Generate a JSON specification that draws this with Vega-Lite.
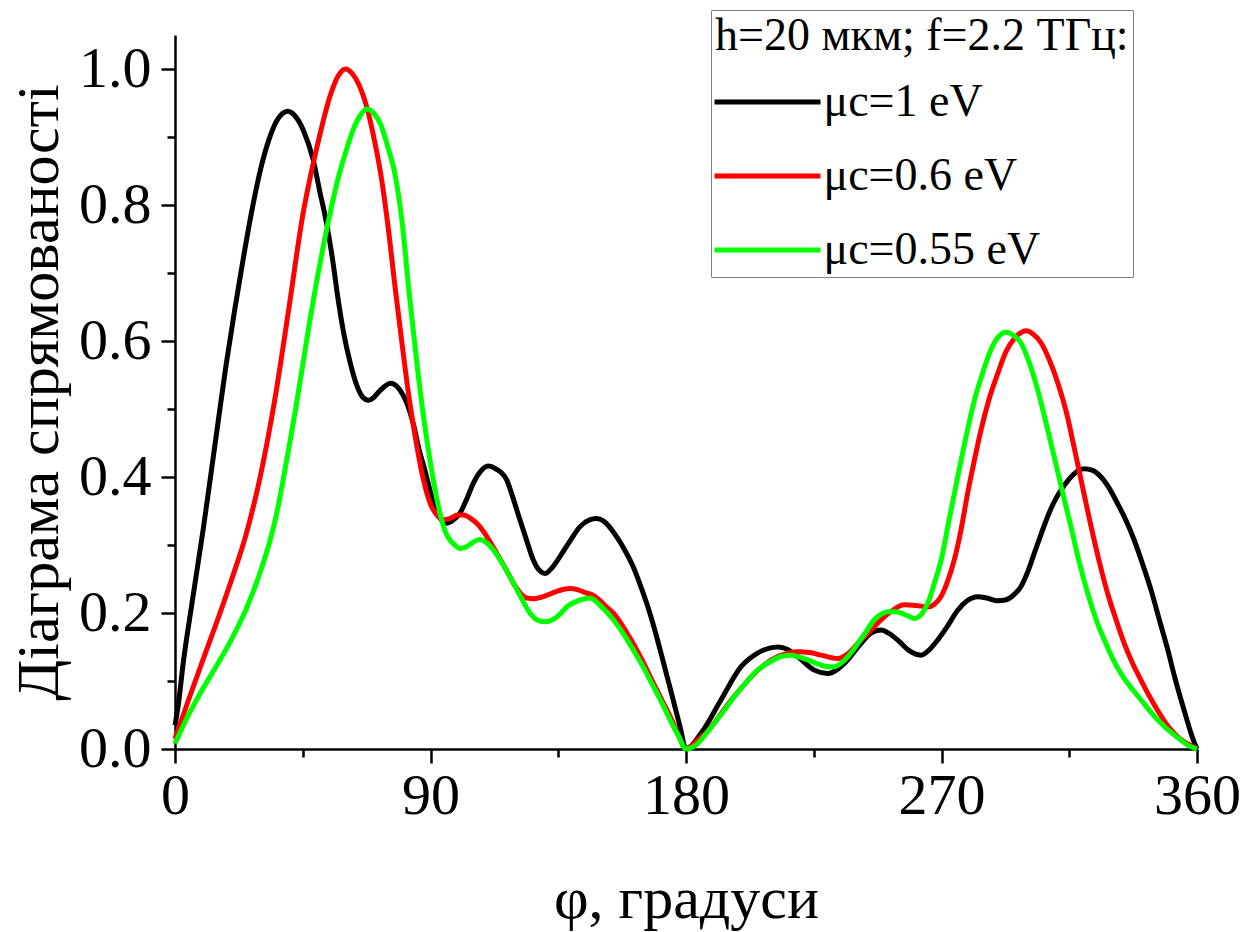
{
"$schema": "https://vega.github.io/schema/vega-lite/v6.json",
"width": 1022, "height": 714,
"autosize": {"type": "none"},
"padding": {"left": 175, "top": 35, "right": 58, "bottom": 183},
"background": "white",
"config": {"view": {"stroke": null}, "font": "Liberation Serif"},
"data": {"values": [
{"series":"μc=1 eV","phi":0,"D":0.035},{"series":"μc=1 eV","phi":1,"D":0.06},{"series":"μc=1 eV","phi":3,"D":0.13},{"series":"μc=1 eV","phi":6,"D":0.215},{"series":"μc=1 eV","phi":10,"D":0.325},{"series":"μc=1 eV","phi":14,"D":0.445},{"series":"μc=1 eV","phi":18,"D":0.565},{"series":"μc=1 eV","phi":21,"D":0.645},{"series":"μc=1 eV","phi":24,"D":0.72},{"series":"μc=1 eV","phi":27,"D":0.79},{"series":"μc=1 eV","phi":30,"D":0.85},{"series":"μc=1 eV","phi":33,"D":0.895},{"series":"μc=1 eV","phi":36,"D":0.925},{"series":"μc=1 eV","phi":39.7,"D":0.938},{"series":"μc=1 eV","phi":42.5,"D":0.93},{"series":"μc=1 eV","phi":45.2,"D":0.91},{"series":"μc=1 eV","phi":48.7,"D":0.866},{"series":"μc=1 eV","phi":51,"D":0.82},{"series":"μc=1 eV","phi":53.4,"D":0.773},{"series":"μc=1 eV","phi":55.5,"D":0.72},{"series":"μc=1 eV","phi":57.5,"D":0.66},{"series":"μc=1 eV","phi":59.5,"D":0.61},{"series":"μc=1 eV","phi":61.6,"D":0.57},{"series":"μc=1 eV","phi":64,"D":0.535},{"series":"μc=1 eV","phi":66,"D":0.518},{"series":"μc=1 eV","phi":68.1,"D":0.513},{"series":"μc=1 eV","phi":70,"D":0.517},{"series":"μc=1 eV","phi":72.2,"D":0.527},{"series":"μc=1 eV","phi":76,"D":0.538},{"series":"μc=1 eV","phi":78,"D":0.534},{"series":"μc=1 eV","phi":80.4,"D":0.52},{"series":"μc=1 eV","phi":82,"D":0.505},{"series":"μc=1 eV","phi":83.9,"D":0.479},{"series":"μc=1 eV","phi":86,"D":0.44},{"series":"μc=1 eV","phi":88,"D":0.41},{"series":"μc=1 eV","phi":89.8,"D":0.381},{"series":"μc=1 eV","phi":92.2,"D":0.35},{"series":"μc=1 eV","phi":94,"D":0.336},{"series":"μc=1 eV","phi":95.7,"D":0.332},{"series":"μc=1 eV","phi":97.5,"D":0.335},{"series":"μc=1 eV","phi":100.4,"D":0.347},{"series":"μc=1 eV","phi":103,"D":0.37},{"series":"μc=1 eV","phi":105.1,"D":0.391},{"series":"μc=1 eV","phi":108,"D":0.41},{"series":"μc=1 eV","phi":110.4,"D":0.416},{"series":"μc=1 eV","phi":113,"D":0.412},{"series":"μc=1 eV","phi":116.8,"D":0.396},{"series":"μc=1 eV","phi":119,"D":0.37},{"series":"μc=1 eV","phi":121.5,"D":0.337},{"series":"μc=1 eV","phi":124,"D":0.305},{"series":"μc=1 eV","phi":126.2,"D":0.278},{"series":"μc=1 eV","phi":128.5,"D":0.262},{"series":"μc=1 eV","phi":130.3,"D":0.258},{"series":"μc=1 eV","phi":132.5,"D":0.265},{"series":"μc=1 eV","phi":135.6,"D":0.283},{"series":"μc=1 eV","phi":139,"D":0.305},{"series":"μc=1 eV","phi":142.7,"D":0.327},{"series":"μc=1 eV","phi":146,"D":0.337},{"series":"μc=1 eV","phi":148.5,"D":0.339},{"series":"μc=1 eV","phi":151,"D":0.335},{"series":"μc=1 eV","phi":155.6,"D":0.312},{"series":"μc=1 eV","phi":158.5,"D":0.292},{"series":"μc=1 eV","phi":161.4,"D":0.268},{"series":"μc=1 eV","phi":164,"D":0.24},{"series":"μc=1 eV","phi":166.1,"D":0.215},{"series":"μc=1 eV","phi":169,"D":0.175},{"series":"μc=1 eV","phi":172,"D":0.128},{"series":"μc=1 eV","phi":175,"D":0.08},{"series":"μc=1 eV","phi":177.9,"D":0.033},{"series":"μc=1 eV","phi":180,"D":0},{"series":"μc=1 eV","phi":185.3,"D":0.023},{"series":"μc=1 eV","phi":192.3,"D":0.072},{"series":"μc=1 eV","phi":199.4,"D":0.121},{"series":"μc=1 eV","phi":205.2,"D":0.141},{"series":"μc=1 eV","phi":212.3,"D":0.15},{"series":"μc=1 eV","phi":216,"D":0.146},{"series":"μc=1 eV","phi":219.3,"D":0.136},{"series":"μc=1 eV","phi":225.2,"D":0.116},{"series":"μc=1 eV","phi":229.9,"D":0.111},{"series":"μc=1 eV","phi":235.8,"D":0.126},{"series":"μc=1 eV","phi":241.6,"D":0.155},{"series":"μc=1 eV","phi":245,"D":0.17},{"series":"μc=1 eV","phi":248.7,"D":0.175},{"series":"μc=1 eV","phi":251.5,"D":0.17},{"series":"μc=1 eV","phi":254.6,"D":0.16},{"series":"μc=1 eV","phi":258.5,"D":0.145},{"series":"μc=1 eV","phi":262.8,"D":0.138},{"series":"μc=1 eV","phi":265.5,"D":0.145},{"series":"μc=1 eV","phi":268.6,"D":0.16},{"series":"μc=1 eV","phi":272,"D":0.18},{"series":"μc=1 eV","phi":275.7,"D":0.204},{"series":"μc=1 eV","phi":279,"D":0.218},{"series":"μc=1 eV","phi":282.7,"D":0.224},{"series":"μc=1 eV","phi":286,"D":0.222},{"series":"μc=1 eV","phi":289.8,"D":0.218},{"series":"μc=1 eV","phi":292.5,"D":0.219},{"series":"μc=1 eV","phi":295,"D":0.225},{"series":"μc=1 eV","phi":298,"D":0.239},{"series":"μc=1 eV","phi":300.5,"D":0.262},{"series":"μc=1 eV","phi":302.7,"D":0.288},{"series":"μc=1 eV","phi":305,"D":0.315},{"series":"μc=1 eV","phi":307.4,"D":0.342},{"series":"μc=1 eV","phi":310,"D":0.366},{"series":"μc=1 eV","phi":313.3,"D":0.388},{"series":"μc=1 eV","phi":316.5,"D":0.404},{"series":"μc=1 eV","phi":320.3,"D":0.412},{"series":"μc=1 eV","phi":323,"D":0.41},{"series":"μc=1 eV","phi":326.2,"D":0.4},{"series":"μc=1 eV","phi":329,"D":0.384},{"series":"μc=1 eV","phi":332,"D":0.361},{"series":"μc=1 eV","phi":335,"D":0.336},{"series":"μc=1 eV","phi":337.9,"D":0.307},{"series":"μc=1 eV","phi":341,"D":0.27},{"series":"μc=1 eV","phi":343.8,"D":0.234},{"series":"μc=1 eV","phi":347,"D":0.186},{"series":"μc=1 eV","phi":349.7,"D":0.146},{"series":"μc=1 eV","phi":352,"D":0.108},{"series":"μc=1 eV","phi":354.4,"D":0.072},{"series":"μc=1 eV","phi":356.3,"D":0.045},{"series":"μc=1 eV","phi":357.9,"D":0.023},{"series":"μc=1 eV","phi":359,"D":0.01},{"series":"μc=1 eV","phi":360,"D":0},
{"series":"μc=0.6 eV","phi":0,"D":0.015},{"series":"μc=0.6 eV","phi":5,"D":0.075},{"series":"μc=0.6 eV","phi":10,"D":0.133},{"series":"μc=0.6 eV","phi":15,"D":0.19},{"series":"μc=0.6 eV","phi":20,"D":0.25},{"series":"μc=0.6 eV","phi":25,"D":0.315},{"series":"μc=0.6 eV","phi":30,"D":0.4},{"series":"μc=0.6 eV","phi":35,"D":0.51},{"series":"μc=0.6 eV","phi":40,"D":0.645},{"series":"μc=0.6 eV","phi":45,"D":0.785},{"series":"μc=0.6 eV","phi":50,"D":0.885},{"series":"μc=0.6 eV","phi":55,"D":0.965},{"series":"μc=0.6 eV","phi":57.5,"D":0.99},{"series":"μc=0.6 eV","phi":60.1,"D":1.0},{"series":"μc=0.6 eV","phi":62.5,"D":0.993},{"series":"μc=0.6 eV","phi":65,"D":0.975},{"series":"μc=0.6 eV","phi":67.5,"D":0.945},{"series":"μc=0.6 eV","phi":70,"D":0.9},{"series":"μc=0.6 eV","phi":72.5,"D":0.845},{"series":"μc=0.6 eV","phi":75,"D":0.77},{"series":"μc=0.6 eV","phi":77.5,"D":0.68},{"series":"μc=0.6 eV","phi":80,"D":0.595},{"series":"μc=0.6 eV","phi":82.5,"D":0.515},{"series":"μc=0.6 eV","phi":85,"D":0.45},{"series":"μc=0.6 eV","phi":87.5,"D":0.396},{"series":"μc=0.6 eV","phi":90,"D":0.36},{"series":"μc=0.6 eV","phi":92.5,"D":0.343},{"series":"μc=0.6 eV","phi":94.5,"D":0.337},{"series":"μc=0.6 eV","phi":97,"D":0.339},{"series":"μc=0.6 eV","phi":99.5,"D":0.344},{"series":"μc=0.6 eV","phi":101.6,"D":0.344},{"series":"μc=0.6 eV","phi":104.5,"D":0.338},{"series":"μc=0.6 eV","phi":107.4,"D":0.327},{"series":"μc=0.6 eV","phi":110.5,"D":0.308},{"series":"μc=0.6 eV","phi":113.3,"D":0.288},{"series":"μc=0.6 eV","phi":116.5,"D":0.265},{"series":"μc=0.6 eV","phi":119.2,"D":0.244},{"series":"μc=0.6 eV","phi":121.5,"D":0.23},{"series":"μc=0.6 eV","phi":123.9,"D":0.222},{"series":"μc=0.6 eV","phi":126.5,"D":0.221},{"series":"μc=0.6 eV","phi":129.7,"D":0.224},{"series":"μc=0.6 eV","phi":134,"D":0.231},{"series":"μc=0.6 eV","phi":137,"D":0.235},{"series":"μc=0.6 eV","phi":139.1,"D":0.236},{"series":"μc=0.6 eV","phi":142,"D":0.234},{"series":"μc=0.6 eV","phi":144.5,"D":0.23},{"series":"μc=0.6 eV","phi":147.4,"D":0.226},{"series":"μc=0.6 eV","phi":150,"D":0.217},{"series":"μc=0.6 eV","phi":152,"D":0.209},{"series":"μc=0.6 eV","phi":154.4,"D":0.2},{"series":"μc=0.6 eV","phi":157.8,"D":0.18},{"series":"μc=0.6 eV","phi":161.4,"D":0.155},{"series":"μc=0.6 eV","phi":165,"D":0.127},{"series":"μc=0.6 eV","phi":168.5,"D":0.097},{"series":"μc=0.6 eV","phi":171.5,"D":0.072},{"series":"μc=0.6 eV","phi":174.4,"D":0.048},{"series":"μc=0.6 eV","phi":177,"D":0.024},{"series":"μc=0.6 eV","phi":180,"D":0},{"series":"μc=0.6 eV","phi":182,"D":0.005},{"series":"μc=0.6 eV","phi":184,"D":0.013},{"series":"μc=0.6 eV","phi":187.6,"D":0.026},{"series":"μc=0.6 eV","phi":191.5,"D":0.047},{"series":"μc=0.6 eV","phi":195.9,"D":0.072},{"series":"μc=0.6 eV","phi":200,"D":0.092},{"series":"μc=0.6 eV","phi":204.1,"D":0.111},{"series":"μc=0.6 eV","phi":208,"D":0.125},{"series":"μc=0.6 eV","phi":212.3,"D":0.136},{"series":"μc=0.6 eV","phi":216,"D":0.141},{"series":"μc=0.6 eV","phi":219.3,"D":0.143},{"series":"μc=0.6 eV","phi":223.5,"D":0.142},{"series":"μc=0.6 eV","phi":227.6,"D":0.138},{"series":"μc=0.6 eV","phi":233.4,"D":0.133},{"series":"μc=0.6 eV","phi":237,"D":0.14},{"series":"μc=0.6 eV","phi":240.5,"D":0.155},{"series":"μc=0.6 eV","phi":244.5,"D":0.172},{"series":"μc=0.6 eV","phi":248.7,"D":0.19},{"series":"μc=0.6 eV","phi":252.5,"D":0.203},{"series":"μc=0.6 eV","phi":256.9,"D":0.212},{"series":"μc=0.6 eV","phi":261,"D":0.211},{"series":"μc=0.6 eV","phi":265.1,"D":0.209},{"series":"μc=0.6 eV","phi":267.5,"D":0.213},{"series":"μc=0.6 eV","phi":269.8,"D":0.224},{"series":"μc=0.6 eV","phi":272,"D":0.245},{"series":"μc=0.6 eV","phi":274.5,"D":0.278},{"series":"μc=0.6 eV","phi":277,"D":0.325},{"series":"μc=0.6 eV","phi":279.2,"D":0.376},{"series":"μc=0.6 eV","phi":281.6,"D":0.425},{"series":"μc=0.6 eV","phi":283.9,"D":0.469},{"series":"μc=0.6 eV","phi":286.8,"D":0.515},{"series":"μc=0.6 eV","phi":289.8,"D":0.552},{"series":"μc=0.6 eV","phi":292.8,"D":0.585},{"series":"μc=0.6 eV","phi":295.7,"D":0.604},{"series":"μc=0.6 eV","phi":297.8,"D":0.612},{"series":"μc=0.6 eV","phi":299.8,"D":0.615},{"series":"μc=0.6 eV","phi":302,"D":0.611},{"series":"μc=0.6 eV","phi":305.1,"D":0.597},{"series":"μc=0.6 eV","phi":308,"D":0.572},{"series":"μc=0.6 eV","phi":311,"D":0.538},{"series":"μc=0.6 eV","phi":314,"D":0.495},{"series":"μc=0.6 eV","phi":316.9,"D":0.44},{"series":"μc=0.6 eV","phi":319.8,"D":0.383},{"series":"μc=0.6 eV","phi":322.7,"D":0.327},{"series":"μc=0.6 eV","phi":325.6,"D":0.275},{"series":"μc=0.6 eV","phi":328.5,"D":0.229},{"series":"μc=0.6 eV","phi":331.5,"D":0.19},{"series":"μc=0.6 eV","phi":334.4,"D":0.155},{"series":"μc=0.6 eV","phi":337.3,"D":0.126},{"series":"μc=0.6 eV","phi":340.3,"D":0.101},{"series":"μc=0.6 eV","phi":343.2,"D":0.078},{"series":"μc=0.6 eV","phi":346.1,"D":0.057},{"series":"μc=0.6 eV","phi":349,"D":0.038},{"series":"μc=0.6 eV","phi":352,"D":0.023},{"series":"μc=0.6 eV","phi":355,"D":0.012},{"series":"μc=0.6 eV","phi":357.9,"D":0.005},{"series":"μc=0.6 eV","phi":360,"D":0},
{"series":"μc=0.55 eV","phi":0,"D":0.008},{"series":"μc=0.55 eV","phi":5,"D":0.052},{"series":"μc=0.55 eV","phi":10,"D":0.09},{"series":"μc=0.55 eV","phi":15,"D":0.125},{"series":"μc=0.55 eV","phi":20,"D":0.162},{"series":"μc=0.55 eV","phi":25,"D":0.205},{"series":"μc=0.55 eV","phi":30,"D":0.26},{"series":"μc=0.55 eV","phi":33.5,"D":0.307},{"series":"μc=0.55 eV","phi":36,"D":0.35},{"series":"μc=0.55 eV","phi":38.1,"D":0.396},{"series":"μc=0.55 eV","phi":40,"D":0.44},{"series":"μc=0.55 eV","phi":42.5,"D":0.5},{"series":"μc=0.55 eV","phi":45,"D":0.565},{"series":"μc=0.55 eV","phi":47.5,"D":0.63},{"series":"μc=0.55 eV","phi":50,"D":0.69},{"series":"μc=0.55 eV","phi":52.5,"D":0.745},{"series":"μc=0.55 eV","phi":55,"D":0.795},{"series":"μc=0.55 eV","phi":57.5,"D":0.84},{"series":"μc=0.55 eV","phi":60,"D":0.876},{"series":"μc=0.55 eV","phi":62.5,"D":0.908},{"series":"μc=0.55 eV","phi":65,"D":0.93},{"series":"μc=0.55 eV","phi":67.5,"D":0.941},{"series":"μc=0.55 eV","phi":70,"D":0.935},{"series":"μc=0.55 eV","phi":72.5,"D":0.918},{"series":"μc=0.55 eV","phi":75,"D":0.885},{"series":"μc=0.55 eV","phi":77.5,"D":0.845},{"series":"μc=0.55 eV","phi":80,"D":0.775},{"series":"μc=0.55 eV","phi":82.5,"D":0.67},{"series":"μc=0.55 eV","phi":85,"D":0.575},{"series":"μc=0.55 eV","phi":87.5,"D":0.49},{"series":"μc=0.55 eV","phi":90,"D":0.42},{"series":"μc=0.55 eV","phi":92.5,"D":0.362},{"series":"μc=0.55 eV","phi":95,"D":0.322},{"series":"μc=0.55 eV","phi":96.9,"D":0.307},{"series":"μc=0.55 eV","phi":98.5,"D":0.3},{"series":"μc=0.55 eV","phi":100.4,"D":0.295},{"series":"μc=0.55 eV","phi":102.5,"D":0.297},{"series":"μc=0.55 eV","phi":105,"D":0.304},{"series":"μc=0.55 eV","phi":107.4,"D":0.308},{"series":"μc=0.55 eV","phi":109.5,"D":0.304},{"series":"μc=0.55 eV","phi":112.1,"D":0.293},{"series":"μc=0.55 eV","phi":116,"D":0.268},{"series":"μc=0.55 eV","phi":119.2,"D":0.244},{"series":"μc=0.55 eV","phi":122,"D":0.222},{"series":"μc=0.55 eV","phi":125,"D":0.2},{"series":"μc=0.55 eV","phi":127.5,"D":0.19},{"series":"μc=0.55 eV","phi":130.3,"D":0.187},{"series":"μc=0.55 eV","phi":133,"D":0.19},{"series":"μc=0.55 eV","phi":135.5,"D":0.198},{"series":"μc=0.55 eV","phi":138,"D":0.209},{"series":"μc=0.55 eV","phi":142,"D":0.218},{"series":"μc=0.55 eV","phi":146.2,"D":0.222},{"series":"μc=0.55 eV","phi":150,"D":0.21},{"series":"μc=0.55 eV","phi":154.4,"D":0.19},{"series":"μc=0.55 eV","phi":158,"D":0.169},{"series":"μc=0.55 eV","phi":161.4,"D":0.146},{"series":"μc=0.55 eV","phi":165,"D":0.12},{"series":"μc=0.55 eV","phi":168.5,"D":0.092},{"series":"μc=0.55 eV","phi":171.5,"D":0.068},{"series":"μc=0.55 eV","phi":174.4,"D":0.043},{"series":"μc=0.55 eV","phi":177.5,"D":0.018},{"series":"μc=0.55 eV","phi":180,"D":0},{"series":"μc=0.55 eV","phi":184.1,"D":0.008},{"series":"μc=0.55 eV","phi":187,"D":0.022},{"series":"μc=0.55 eV","phi":190,"D":0.038},{"series":"μc=0.55 eV","phi":193.5,"D":0.057},{"series":"μc=0.55 eV","phi":197,"D":0.077},{"series":"μc=0.55 eV","phi":201,"D":0.097},{"series":"μc=0.55 eV","phi":205.2,"D":0.116},{"series":"μc=0.55 eV","phi":209.5,"D":0.128},{"series":"μc=0.55 eV","phi":213.5,"D":0.136},{"series":"μc=0.55 eV","phi":217,"D":0.138},{"series":"μc=0.55 eV","phi":220,"D":0.135},{"series":"μc=0.55 eV","phi":222.9,"D":0.131},{"series":"μc=0.55 eV","phi":226.5,"D":0.125},{"series":"μc=0.55 eV","phi":229.9,"D":0.121},{"series":"μc=0.55 eV","phi":232.3,"D":0.121},{"series":"μc=0.55 eV","phi":234.6,"D":0.126},{"series":"μc=0.55 eV","phi":237.5,"D":0.138},{"series":"μc=0.55 eV","phi":240.5,"D":0.155},{"series":"μc=0.55 eV","phi":243.5,"D":0.173},{"series":"μc=0.55 eV","phi":246.3,"D":0.19},{"series":"μc=0.55 eV","phi":248.7,"D":0.198},{"series":"μc=0.55 eV","phi":251,"D":0.202},{"series":"μc=0.55 eV","phi":253.5,"D":0.202},{"series":"μc=0.55 eV","phi":255.7,"D":0.2},{"series":"μc=0.55 eV","phi":258,"D":0.196},{"series":"μc=0.55 eV","phi":260.4,"D":0.192},{"series":"μc=0.55 eV","phi":262.2,"D":0.195},{"series":"μc=0.55 eV","phi":263.9,"D":0.204},{"series":"μc=0.55 eV","phi":265.7,"D":0.22},{"series":"μc=0.55 eV","phi":267.5,"D":0.244},{"series":"μc=0.55 eV","phi":270,"D":0.28},{"series":"μc=0.55 eV","phi":272.2,"D":0.327},{"series":"μc=0.55 eV","phi":274.5,"D":0.375},{"series":"μc=0.55 eV","phi":276.9,"D":0.425},{"series":"μc=0.55 eV","phi":279.2,"D":0.47},{"series":"μc=0.55 eV","phi":281.6,"D":0.513},{"series":"μc=0.55 eV","phi":284.5,"D":0.553},{"series":"μc=0.55 eV","phi":287.4,"D":0.587},{"series":"μc=0.55 eV","phi":290,"D":0.606},{"series":"μc=0.55 eV","phi":292.7,"D":0.613},{"series":"μc=0.55 eV","phi":295.5,"D":0.608},{"series":"μc=0.55 eV","phi":298,"D":0.597},{"series":"μc=0.55 eV","phi":301,"D":0.567},{"series":"μc=0.55 eV","phi":303.9,"D":0.528},{"series":"μc=0.55 eV","phi":306.8,"D":0.48},{"series":"μc=0.55 eV","phi":309.7,"D":0.43},{"series":"μc=0.55 eV","phi":312.6,"D":0.378},{"series":"μc=0.55 eV","phi":315.6,"D":0.327},{"series":"μc=0.55 eV","phi":318.5,"D":0.275},{"series":"μc=0.55 eV","phi":321.5,"D":0.229},{"series":"μc=0.55 eV","phi":324.5,"D":0.19},{"series":"μc=0.55 eV","phi":327.4,"D":0.16},{"series":"μc=0.55 eV","phi":330.3,"D":0.133},{"series":"μc=0.55 eV","phi":333.2,"D":0.111},{"series":"μc=0.55 eV","phi":336.8,"D":0.09},{"series":"μc=0.55 eV","phi":340.3,"D":0.072},{"series":"μc=0.55 eV","phi":343.8,"D":0.054},{"series":"μc=0.55 eV","phi":347.3,"D":0.038},{"series":"μc=0.55 eV","phi":351,"D":0.024},{"series":"μc=0.55 eV","phi":354.4,"D":0.013},{"series":"μc=0.55 eV","phi":357,"D":0.005},{"series":"μc=0.55 eV","phi":360,"D":0}
]},
"mark": {"type": "line", "strokeWidth": 5, "interpolate": "monotone"},
"encoding": {
"x": {"field": "phi", "type": "quantitative", "scale": {"domain": [0, 360], "nice": false, "zero": false},
 "axis": {"title": "φ, градуси", "values": [0,45,90,135,180,225,270,315,360], "labelExpr": "datum.value % 90 === 0 ? datum.label : ''",
  "tickSize": {"condition": {"test": "datum.value % 90 === 0", "value": 14}, "value": 8},
  "grid": false, "domainColor": "black", "domainWidth": 2.5, "tickColor": "black", "tickWidth": 2.5,
  "labelFont": "Liberation Serif", "labelFontSize": 58, "labelColor": "black", "labelPadding": 4, "labelFlush": false, "labelOverlap": false, "labelBound": false,
  "titleFont": "Liberation Serif", "titleFontSize": 60, "titleFontWeight": "normal", "titleColor": "black", "titlePadding": 45}},
"y": {"field": "D", "type": "quantitative", "scale": {"domain": [0, 1.05], "nice": false},
 "axis": {"title": "Діаграма спрямованості", "values": [0,0.1,0.2,0.3,0.4,0.5,0.6,0.7,0.8,0.9,1.0], "format": ".1f", "labelExpr": "round(datum.value*10) % 2 === 0 ? datum.label : ''",
  "tickSize": {"condition": {"test": "round(datum.value*10) % 2 === 0", "value": 14}, "value": 8},
  "grid": false, "domainColor": "black", "domainWidth": 2.5, "tickColor": "black", "tickWidth": 2.5,
  "labelFont": "Liberation Serif", "labelFontSize": 58, "labelColor": "black", "labelPadding": 10, "labelFlush": false, "labelOverlap": false, "labelBound": false,
  "titleFont": "Liberation Serif", "titleFontSize": 60, "titleFontWeight": "normal", "titleColor": "black", "titlePadding": 8}},
"color": {"field": "series", "type": "nominal",
 "scale": {"domain": ["μc=1 eV", "μc=0.6 eV", "μc=0.55 eV"], "range": ["#000000", "#ff0000", "#00ff00"]},
 "legend": {"orient": "none", "legendX": 536, "legendY": -25, "title": "h=20 мкм; f=2.2 ТГц:",
  "titleFont": "Liberation Serif", "titleFontSize": 46, "titleFontWeight": "normal", "titleColor": "black", "titleLimit": 0, "titlePadding": 13,
  "labelFont": "Liberation Serif", "labelFontSize": 46, "labelColor": "black", "labelLimit": 0, "labelOffset": 27,
  "symbolType": "M-2,0H2", "symbolSize": 2809, "symbolStrokeWidth": 5, "symbolOffset": 23.5,
  "strokeColor": "#808080", "fillColor": "white", "padding": 4, "rowPadding": 22}}
}
}
